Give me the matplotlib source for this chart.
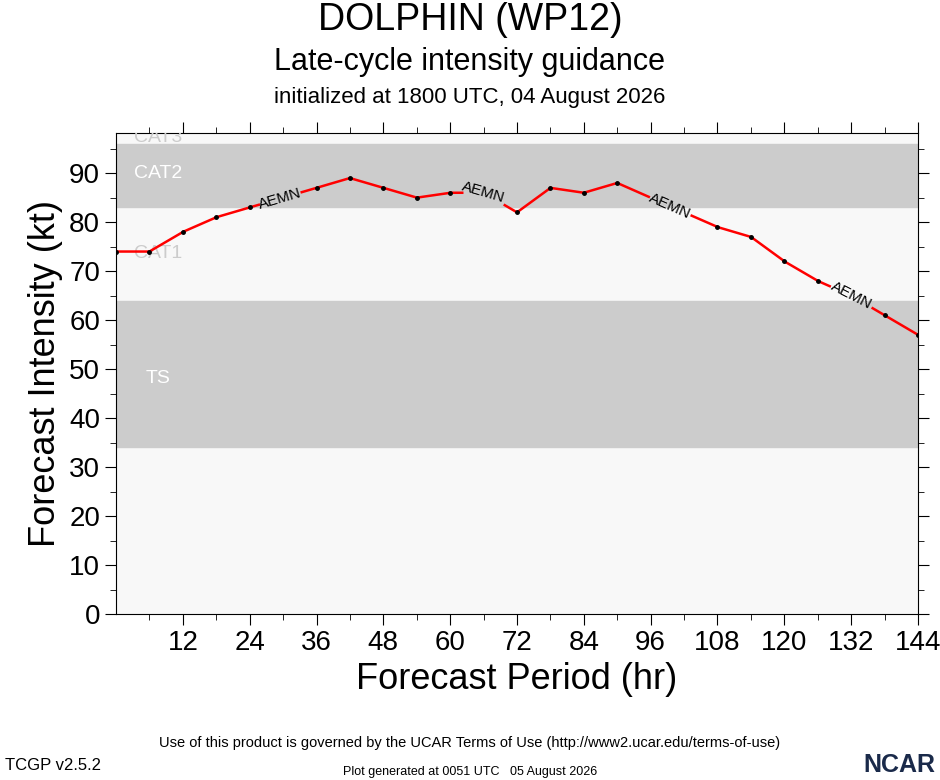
import matplotlib
matplotlib.use("Agg")
import matplotlib.pyplot as plt
import numpy as np

hours = np.arange(0, 145, 6)
aemn = [74, 74, 78, 81, 83, 85, 87, 89, 87, 85, 86, 86, 82, 87, 86, 88, 85, 82, 79, 77, 72, 68, 65, 61, 57]
label_hours = [29.5, 66, 99.5, 132]
bands = [(34, 64, "TS", 48), (83, 96, "CAT2", 90)]
band_labels = [("CAT1", 73.5), ("CAT3", 97.3)]

plt.rcParams['font.family'] = ['Liberation Sans', 'DejaVu Sans']
fig = plt.figure(figsize=(9.4, 7.8), dpi=100)
ax = fig.add_axes([116/940, 1 - 614/780, 802/940, 481/780])
ax.set_xlim(0, 144)
ax.set_ylim(0, 98.2)
ax.set_facecolor('#f8f8f8')

for lo, hi, name, ty in bands:
    ax.axhspan(lo, hi, color='#cccccc', zorder=0)
    ax.text(7.5, ty, name, color='white', fontsize=14, ha='center', va='center')
for name, ty in band_labels:
    ax.text(7.5, ty, name, color='#cccccc', fontsize=14, ha='center', va='center', clip_on=True)

# line with gaps where the model name sits
xs = np.linspace(0, 144, 2000)
ys = np.interp(xs, hours, aemn)
mask = np.ones_like(xs, dtype=bool)
for lh in label_hours:
    mask &= np.abs(xs - lh) > 3.8
ys_m = np.where(mask, ys, np.nan)
ax.plot(xs, ys_m, color='red', lw=1.8, zorder=3)
keep = [all(abs(h - lh) > 3.8 for lh in label_hours) for h in hours]
ax.plot(hours[keep], np.array(aemn)[keep], 'o', color='black', ms=2.5, zorder=4)

for lh in label_hours:
    y = np.interp(lh, hours, aemn)
    dx = 1.0
    slope = (np.interp(lh + dx, hours, aemn) - np.interp(lh - dx, hours, aemn)) / (2 * dx)
    ang = np.degrees(np.arctan(slope * (4.9 / (802 / 144))))
    ax.text(lh, y, "AEMN", fontsize=11, ha='center', va='center', rotation=ang,
            rotation_mode='anchor', zorder=5)

ax.set_xticks(np.arange(12, 145, 12))
ax.set_xticks(np.arange(6, 145, 6), minor=True)
ax.set_yticks(np.arange(0, 91, 10))
ax.set_yticks(np.arange(0, 98, 5), minor=True)
ax.tick_params(axis='both', which='major', labelsize=20, direction='out', length=8, top=True, right=True)
ax.tick_params(axis='both', which='minor', direction='out', length=4, top=True, right=True)
ax.set_xlabel('Forecast Period (hr)', fontsize=26)
ax.set_ylabel('Forecast Intensity (kt)', fontsize=26)

fig.text(0.5, 1 - 20/780, 'DOLPHIN (WP12)', ha='center', va='center', fontsize=27)
fig.text(0.5, 1 - 62/780, 'Late-cycle intensity guidance', ha='center', va='center', fontsize=22)
fig.text(0.5, 1 - 97/780, 'initialized at 1800 UTC, 04 August 2026', ha='center', va='center', fontsize=16)
fig.text(0.5, 1 - 743/780, 'Use of this product is governed by the UCAR Terms of Use (http://www2.ucar.edu/terms-of-use)',
         ha='center', va='center', fontsize=10.5)
fig.text(0.5, 1 - 772/780, 'Plot generated at 0051 UTC   05 August 2026', ha='center', va='center', fontsize=9)
fig.text(5/940, 1 - 765/780, 'TCGP v2.5.2', ha='left', va='center', fontsize=12)
fig.text(935/940, 1 - 765/780, 'NCAR', ha='right', va='center', fontsize=18, fontweight='bold', color='#1a2a4a')

fig.savefig('out.png', dpi=100)
